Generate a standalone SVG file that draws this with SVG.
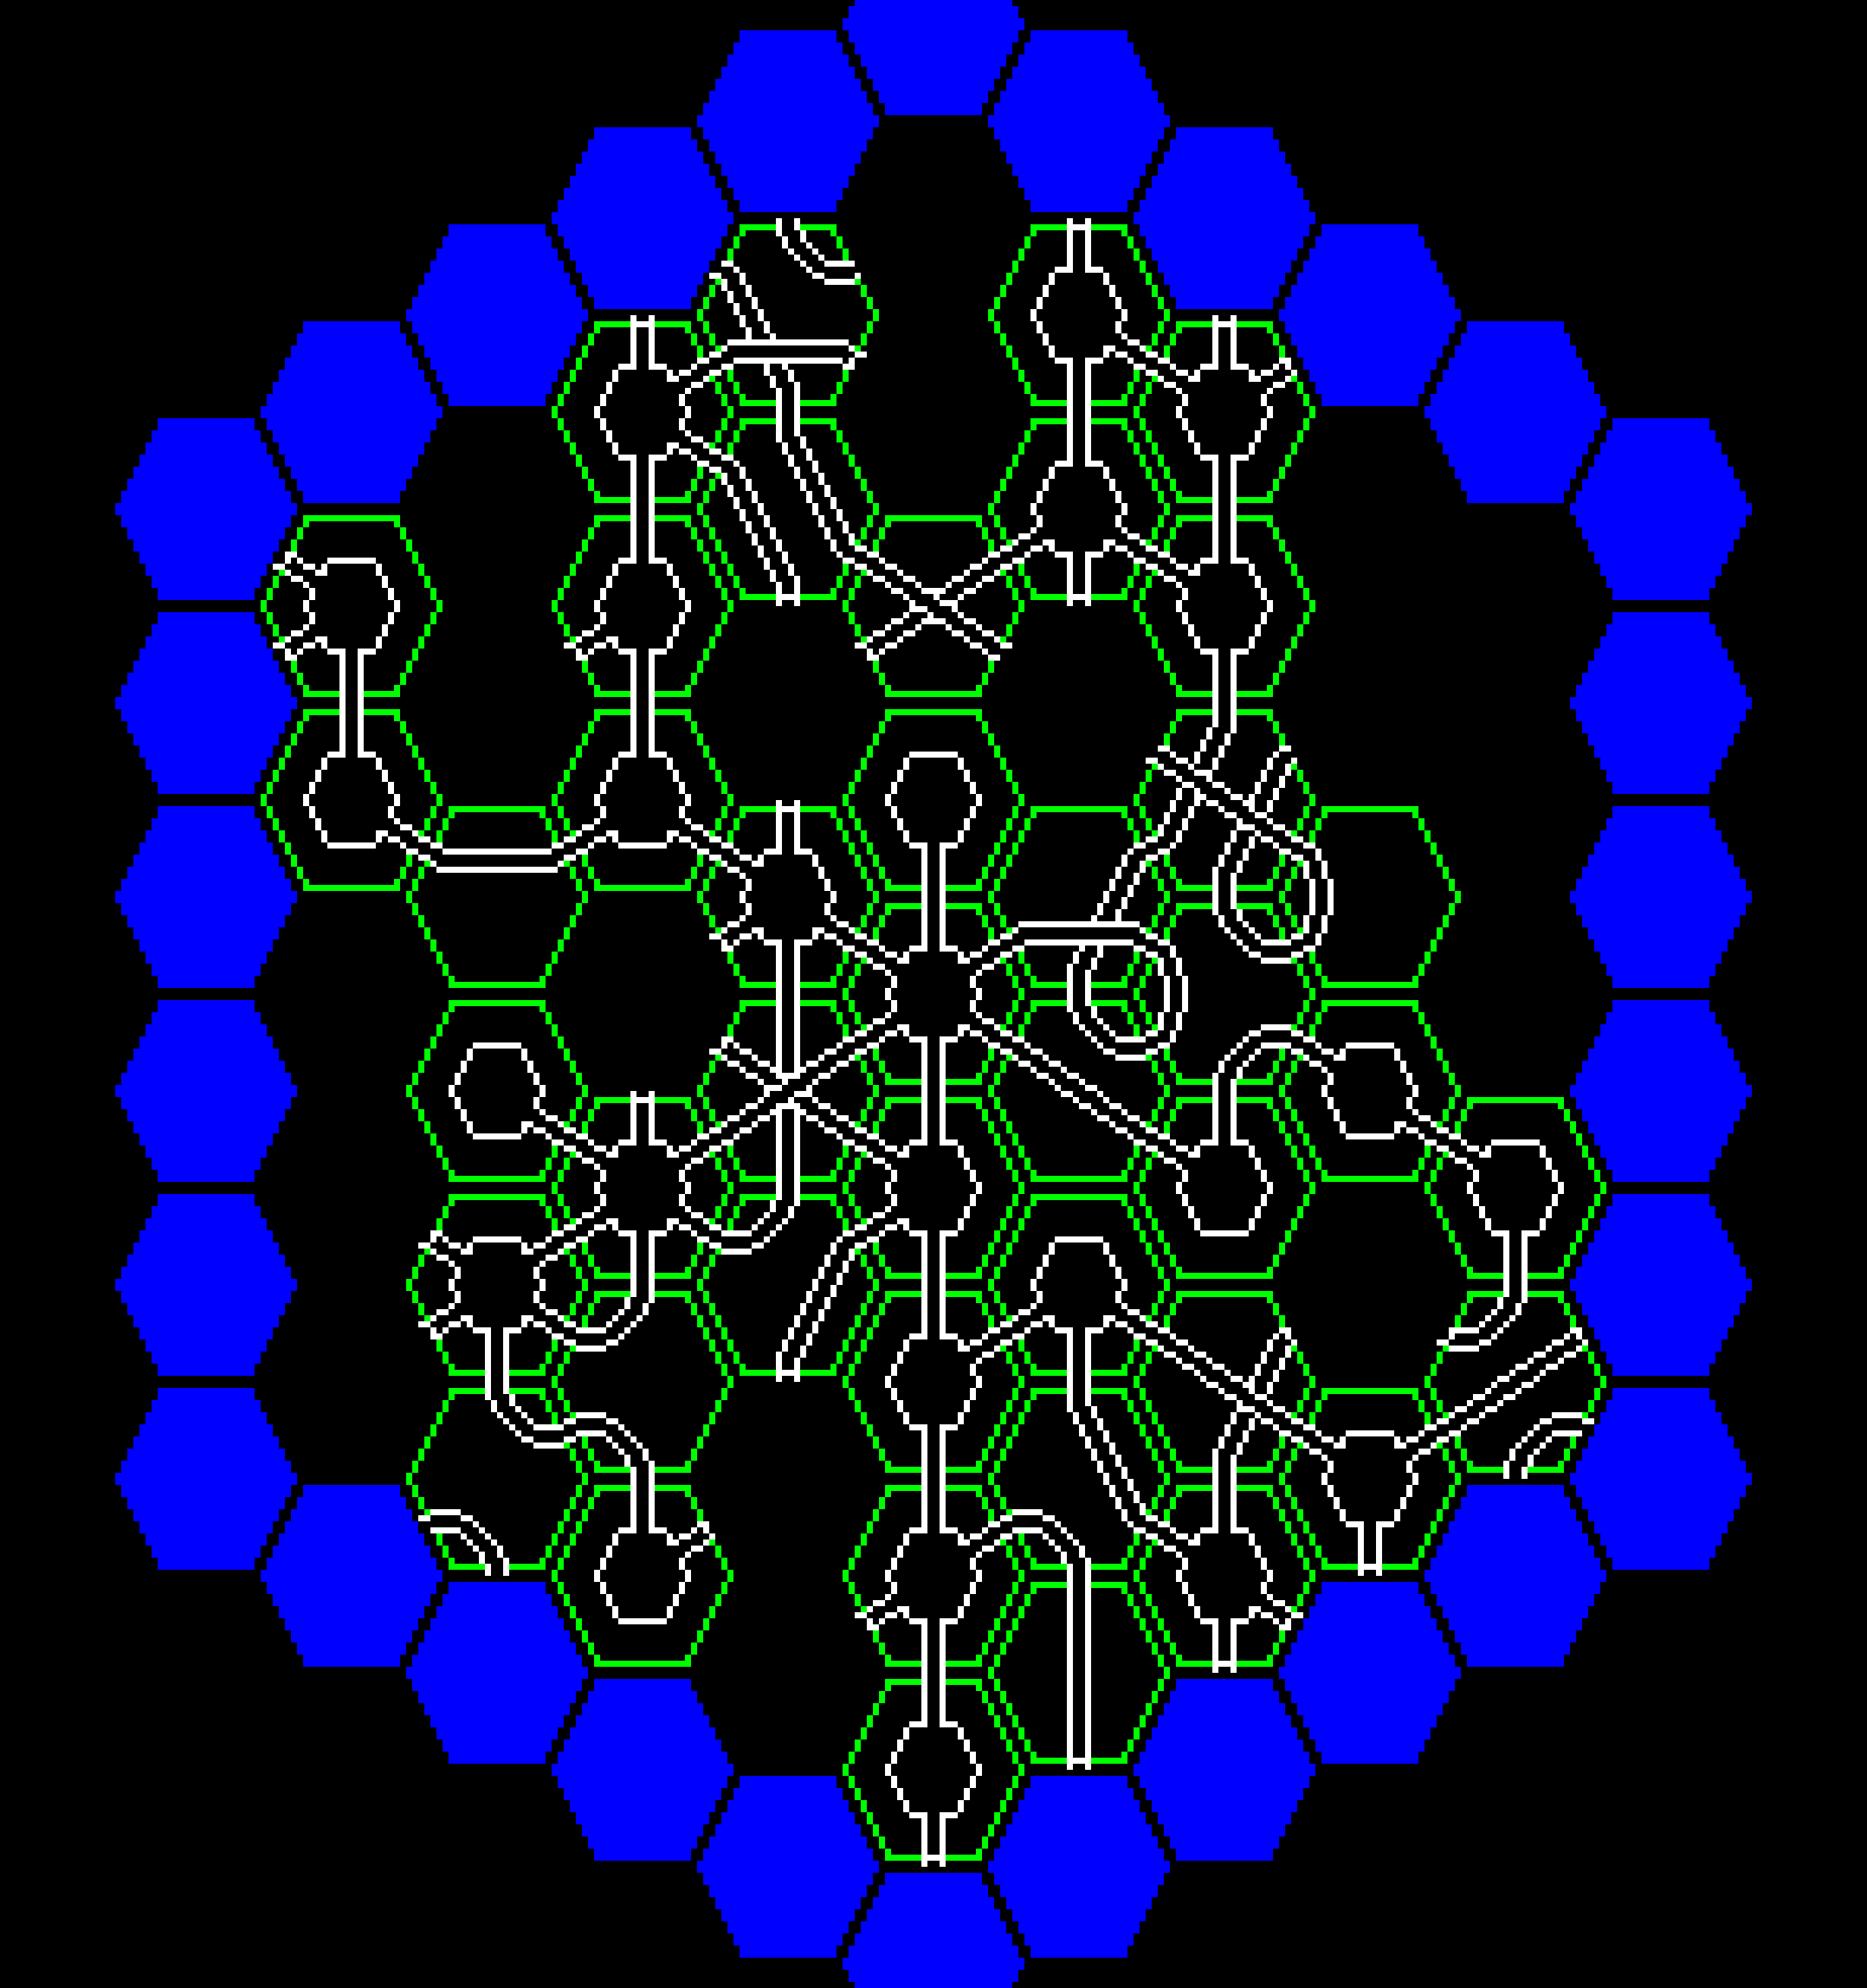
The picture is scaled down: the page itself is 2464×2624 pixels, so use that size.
<svg xmlns="http://www.w3.org/2000/svg" width="2464" height="2624" viewBox="0 0 2464 2624" shape-rendering="crispEdges">
<style>.w{fill:none;stroke:#fff;stroke-width:8}.k{fill:none;stroke:#000;stroke-width:8}.g{fill:none;stroke:#0f0;stroke-width:8}.b{fill:#00f}</style>
<defs>
<path id="bh" class="b" d="M-64 -120H64V-104H72V-88H80V-72H88V-56H96V-40H104V-24H112V-8H120V8H112V24H104V40H96V56H88V72H80V88H72V104H64V120H-64V104H-72V88H-80V72H-88V56H-96V40H-104V24H-112V8H-120V-8H-112V-24H-104V-40H-96V-56H-88V-72H-80V-88H-72V-104H-64Z"/>
<path id="gh" class="g" d="M-64 -116H64M60 -112V-104M68 -104V-88M76 -88V-72M84 -72V-56M92 -56V-40M100 -40V-24M108 -24V-8M116 -8V8M108 8V24M100 24V40M92 40V56M84 56V72M76 72V88M68 88V104M60 104V112M-64 116H64M-60 -112V-104M-68 -104V-88M-76 -88V-72M-84 -72V-56M-92 -56V-40M-100 -40V-24M-108 -24V-8M-116 -8V8M-108 8V24M-100 24V40M-92 40V56M-84 56V72M-76 72V88M-68 88V104M-60 104V112"/>
<path id="r" class="w" d="M-32 -60H32M-32 60H32M36 -56V-40M44 -40V-24M52 -24V-8M60 -8V8M52 8V24M44 24V40M36 40V56M-36 -56V-40M-44 -40V-24M-52 -24V-8M-60 -8V8M-52 8V24M-44 24V40M-36 40V56"/>
<g id="pv"><path class="k" d="M-8 -60H8M-8 -116H8"/><path class="w" d="M-12 -128V-56M12 -128V-56"/></g>
<g id="sv"><path class="k" d="M-8 -116H8M-8 116H8"/><path class="w" d="M-12 -128V128M12 -128V128"/></g>
<g id="pd"><path class="k" d="M44 24V40M80 60H88"/><path class="w" d="M56 28H64M64 36H80M80 44H88M88 52H104M32 44H48M48 52H64M64 60H72M72 68H88"/></g>
<path id="bs" class="w" d="M-8 116H8"/>
<path id="bd" class="w" d="M80 60H88"/>
<path id="td" class="k" d="M96 52H104"/>
<g id="sb"><path class="k" d="M-88 -60H-80M-8 116H8"/><path class="w" d="M-104 -52H-88M-84 -48V-32M-76 -32V-16M-68 -16V0M-60 0V16M-52 16V32M-44 32V48M-36 48V64M-28 64V80M-20 80V96M-12 96V128M-88 -68H-72M-72 -60H-64M-60 -56V-40M-52 -40V-24M-44 -24V-8M-36 -8V8M-28 8V24M-20 24V40M-12 40V56M-4 56V72M4 72V88M12 88V128"/></g>
<g id="hb"><path class="k" d="M-88 -60H-80M80 -60H88M-88 -52H88M-80 -44H80"/><path class="w" d="M-88 -68H-72M72 -68H88M-72 -60H72M-104 -52H-88M88 -52H104M-84 -48V-40M84 -48V-40M-80 -36H80"/></g>
<g id="an"><path class="k" d="M-8 -116H8M80 -60H88"/><path class="w" d="M-12 -128V-104M-4 -104V-88M4 -88V-80M12 -80V-72M20 -72V-64M28 -64V-56M32 -52H48M48 -44H88M88 -52H104M12 -128V-112M20 -112V-96M28 -96V-88M36 -88V-80M44 -80V-72M48 -68H88"/></g>
<g id="aw"><path class="k" d="M-88 -60H-80M-88 60H-80"/><path class="w" d="M-88 -68H-72M-68 -64V-48M-60 -48V-24M-52 -24V24M-60 24V48M-68 48V64M-88 68H-72M-104 -52H-88M-84 -48V-24M-76 -24V24M-84 24V48M-104 52H-88"/></g>
<g id="sd"><path class="k" d="M-88 -60H-80M80 60H88M-88 -52H-64M-80 -44H-48M-64 -36H-40M-56 -28H-24M-40 -20H-16M-32 -12H0M-24 -4H8M-8 4H24M0 12H32M16 20H40M24 28H56M40 36H64M48 44H80M64 52H88"/><path class="w" d="M-88 -68H-72M-72 -60H-64M-64 -52H-48M-48 -44H-40M-40 -36H-24M-24 -28H-16M-16 -20H0M0 -12H8M8 -4H24M24 4H32M32 12H40M40 20H56M56 28H64M64 36H80M80 44H88M88 52H104M-104 -52H-88M-88 -44H-80M-80 -36H-64M-64 -28H-56M-56 -20H-40M-40 -12H-32M-32 -4H-24M-24 4H-8M-8 12H0M0 20H16M16 28H24M24 36H40M40 44H48M48 52H64M64 60H72M72 68H88"/></g>
</defs>
<rect id="background" width="2464" height="2624" fill="#000"/>
<g id="blue-border">
<use href="#bh" x="272" y="672"/><use href="#bh" x="272" y="928"/><use href="#bh" x="272" y="1184"/><use href="#bh" x="272" y="1440"/><use href="#bh" x="272" y="1696"/><use href="#bh" x="272" y="1952"/>
<use href="#bh" x="464" y="544"/><use href="#bh" x="464" y="2080"/><use href="#bh" x="656" y="416"/><use href="#bh" x="656" y="2208"/>
<use href="#bh" x="848" y="288"/><use href="#bh" x="848" y="2336"/><use href="#bh" x="1040" y="160"/><use href="#bh" x="1040" y="2464"/>
<use href="#bh" x="1232" y="32"/><use href="#bh" x="1232" y="2592"/><use href="#bh" x="1424" y="160"/><use href="#bh" x="1424" y="2464"/>
<use href="#bh" x="1616" y="288"/><use href="#bh" x="1616" y="2336"/><use href="#bh" x="1808" y="416"/><use href="#bh" x="1808" y="2208"/>
<use href="#bh" x="2000" y="544"/><use href="#bh" x="2000" y="2080"/>
<use href="#bh" x="2192" y="672"/><use href="#bh" x="2192" y="928"/><use href="#bh" x="2192" y="1184"/><use href="#bh" x="2192" y="1440"/><use href="#bh" x="2192" y="1696"/><use href="#bh" x="2192" y="1952"/>
</g>
<g id="green-cells">
<use href="#gh" x="464" y="800"/><use href="#gh" x="464" y="1056"/>
<use href="#gh" x="656" y="1184"/><use href="#gh" x="656" y="1440"/><use href="#gh" x="656" y="1696"/><use href="#gh" x="656" y="1952"/>
<use href="#gh" x="848" y="544"/><use href="#gh" x="848" y="800"/><use href="#gh" x="848" y="1056"/><use href="#gh" x="848" y="1568"/><use href="#gh" x="848" y="1824"/><use href="#gh" x="848" y="2080"/>
<use href="#gh" x="1040" y="416"/><use href="#gh" x="1040" y="672"/><use href="#gh" x="1040" y="1184"/><use href="#gh" x="1040" y="1440"/><use href="#gh" x="1040" y="1696"/>
<use href="#gh" x="1232" y="800"/><use href="#gh" x="1232" y="1056"/><use href="#gh" x="1232" y="1312"/><use href="#gh" x="1232" y="1568"/><use href="#gh" x="1232" y="1824"/><use href="#gh" x="1232" y="2080"/><use href="#gh" x="1232" y="2336"/>
<use href="#gh" x="1424" y="416"/><use href="#gh" x="1424" y="672"/><use href="#gh" x="1424" y="1184"/><use href="#gh" x="1424" y="1440"/><use href="#gh" x="1424" y="1696"/><use href="#gh" x="1424" y="1952"/><use href="#gh" x="1424" y="2208"/>
<use href="#gh" x="1616" y="544"/><use href="#gh" x="1616" y="800"/><use href="#gh" x="1616" y="1056"/><use href="#gh" x="1616" y="1312"/><use href="#gh" x="1616" y="1568"/><use href="#gh" x="1616" y="1824"/><use href="#gh" x="1616" y="2080"/>
<use href="#gh" x="1808" y="1184"/><use href="#gh" x="1808" y="1440"/><use href="#gh" x="1808" y="1952"/>
<use href="#gh" x="2000" y="1568"/><use href="#gh" x="2000" y="1824"/>
</g>
<g id="connectors">
<g id="c464-800" transform="translate(464 800)"><use href="#r"/><use href="#pd" transform="scale(-1 -1)"/><use href="#bd" transform="scale(-1 -1)"/><use href="#pd" transform="scale(-1 1)"/><use href="#bd" transform="scale(-1 1)"/><use href="#pv" transform="scale(1 -1)"/></g>
<g id="c464-1056" transform="translate(464 1056)"><use href="#r"/><use href="#pv"/><use href="#pd"/></g>
<g id="c656-1184" transform="translate(656 1184)"><use href="#hb"/></g>
<g id="c656-1440" transform="translate(656 1440)"><use href="#r"/><use href="#pd"/></g>
<g id="c656-1696" transform="translate(656 1696)"><use href="#r"/><use href="#pd" transform="scale(-1 -1)"/><use href="#bd" transform="scale(-1 -1)"/><use href="#pd" transform="scale(-1 1)"/><use href="#bd" transform="scale(-1 1)"/><use href="#pd" transform="scale(1 -1)"/><use href="#pd"/><use href="#pv" transform="scale(1 -1)"/></g>
<g id="c656-1952" transform="translate(656 1952)"><use href="#an"/><use href="#an" transform="scale(-1 -1)"/></g>
<g id="c848-544" transform="translate(848 544)"><use href="#r"/><use href="#pv"/><use href="#bs" transform="scale(1 -1)"/><use href="#pv" transform="scale(1 -1)"/><use href="#pd" transform="scale(1 -1)"/><use href="#pd"/></g>
<g id="c848-800" transform="translate(848 800)"><use href="#r"/><use href="#pv"/><use href="#pv" transform="scale(1 -1)"/><use href="#pd" transform="scale(-1 1)"/><use href="#bd" transform="scale(-1 1)"/></g>
<g id="c848-1056" transform="translate(848 1056)"><use href="#r"/><use href="#pv"/><use href="#pd" transform="scale(-1 1)"/><use href="#pd"/></g>
<g id="c848-1568" transform="translate(848 1568)"><use href="#r"/><use href="#pv"/><use href="#bs" transform="scale(1 -1)"/><use href="#pv" transform="scale(1 -1)"/><use href="#pd" transform="scale(-1 -1)"/><use href="#pd" transform="scale(1 -1)"/><use href="#pd" transform="scale(-1 1)"/><use href="#pd"/></g>
<g id="c848-1824" transform="translate(848 1824)"><use href="#an" transform="scale(-1 1)"/><use href="#an" transform="scale(-1 -1)"/></g>
<g id="c848-2080" transform="translate(848 2080)"><use href="#r"/><use href="#pv"/><use href="#pd" transform="scale(1 -1)"/><use href="#bd" transform="scale(1 -1)"/><use href="#td" transform="scale(1 -1)"/></g>
<g id="c1040-416" transform="translate(1040 416)"><use href="#an"/><use href="#td" transform="scale(1 -1)"/><use href="#sb"/><use href="#hb" transform="scale(1 -1)"/><use href="#bd"/></g>
<g id="c1040-672" transform="translate(1040 672)"><use href="#sb"/><use href="#sb" transform="scale(-1 -1)"/><use href="#bs"/></g>
<g id="c1040-1184" transform="translate(1040 1184)"><use href="#r"/><use href="#pv"/><use href="#bs" transform="scale(1 -1)"/><use href="#pv" transform="scale(1 -1)"/><use href="#pd" transform="scale(-1 -1)"/><use href="#pd" transform="scale(-1 1)"/><use href="#bd" transform="scale(-1 1)"/><use href="#pd"/></g>
<g id="c1040-1440" transform="translate(1040 1440)"><use href="#sv"/><use href="#sd"/><use href="#sd" transform="scale(-1 1)"/><use href="#bd" transform="scale(-1 -1)"/></g>
<g id="c1040-1696" transform="translate(1040 1696)"><use href="#an" transform="scale(-1 1)"/><use href="#sb" transform="scale(-1 1)"/><use href="#bs"/></g>
<g id="c1232-800" transform="translate(1232 800)"><use href="#sd" transform="scale(-1 1)"/><use href="#sd"/><use href="#bd" transform="scale(-1 1)"/></g>
<g id="c1232-1056" transform="translate(1232 1056)"><use href="#r"/><use href="#pv" transform="scale(1 -1)"/></g>
<g id="c1232-1312" transform="translate(1232 1312)"><use href="#r"/><use href="#pv"/><use href="#pv" transform="scale(1 -1)"/><use href="#pd"/><use href="#pd" transform="scale(-1 1)"/><use href="#pd" transform="scale(1 -1)"/><use href="#pd" transform="scale(-1 -1)"/></g>
<g id="c1232-1568" transform="translate(1232 1568)"><use href="#r"/><use href="#pv"/><use href="#pv" transform="scale(1 -1)"/><use href="#pd" transform="scale(-1 -1)"/><use href="#pd" transform="scale(-1 1)"/></g>
<g id="c1232-1824" transform="translate(1232 1824)"><use href="#r"/><use href="#pv"/><use href="#pv" transform="scale(1 -1)"/><use href="#pd" transform="scale(1 -1)"/></g>
<g id="c1232-2080" transform="translate(1232 2080)"><use href="#r"/><use href="#pv"/><use href="#pv" transform="scale(1 -1)"/><use href="#pd" transform="scale(1 -1)"/><use href="#pd" transform="scale(-1 1)"/><use href="#bd" transform="scale(-1 1)"/></g>
<g id="c1232-2336" transform="translate(1232 2336)"><use href="#r"/><use href="#pv"/><use href="#pv" transform="scale(1 -1)"/><use href="#bs"/></g>
<g id="c1424-416" transform="translate(1424 416)"><use href="#r"/><use href="#pv"/><use href="#bs" transform="scale(1 -1)"/><use href="#pv" transform="scale(1 -1)"/><use href="#pd"/></g>
<g id="c1424-672" transform="translate(1424 672)"><use href="#r"/><use href="#pv"/><use href="#pv" transform="scale(1 -1)"/><use href="#bs"/><use href="#pd" transform="scale(-1 1)"/><use href="#pd"/></g>
<g id="c1424-1184" transform="translate(1424 1184)"><use href="#sb" transform="scale(-1 1)"/><use href="#hb" transform="scale(1 -1)"/></g>
<g id="c1424-1440" transform="translate(1424 1440)"><use href="#an"/><use href="#sd"/></g>
<g id="c1424-1696" transform="translate(1424 1696)"><use href="#r"/><use href="#pv" transform="scale(1 -1)"/><use href="#pd" transform="scale(-1 1)"/><use href="#pd"/></g>
<g id="c1424-1952" transform="translate(1424 1952)"><use href="#sb" transform="scale(-1 -1)"/><use href="#an" transform="scale(-1 -1)"/></g>
<g id="c1424-2208" transform="translate(1424 2208)"><use href="#sv"/><use href="#bs"/></g>
<g id="c1616-544" transform="translate(1616 544)"><use href="#r"/><use href="#pv"/><use href="#bs" transform="scale(1 -1)"/><use href="#pv" transform="scale(1 -1)"/><use href="#pd" transform="scale(-1 -1)"/><use href="#pd" transform="scale(1 -1)"/><use href="#bd" transform="scale(1 -1)"/><use href="#td" transform="scale(1 -1)"/></g>
<g id="c1616-800" transform="translate(1616 800)"><use href="#r"/><use href="#pv"/><use href="#pv" transform="scale(1 -1)"/><use href="#pd" transform="scale(-1 -1)"/></g>
<g id="c1616-1056" transform="translate(1616 1056)"><use href="#sb" transform="scale(1 -1)"/><use href="#sb" transform="scale(-1 1)"/><use href="#td" transform="scale(1 -1)"/><use href="#sd"/></g>
<g id="c1616-1312" transform="translate(1616 1312)"><use href="#an"/><use href="#aw"/><use href="#an" transform="scale(1 -1)"/></g>
<g id="c1616-1568" transform="translate(1616 1568)"><use href="#r"/><use href="#pv"/><use href="#pd" transform="scale(-1 -1)"/></g>
<g id="c1616-1824" transform="translate(1616 1824)"><use href="#sb" transform="scale(-1 1)"/><use href="#bd" transform="scale(1 -1)"/><use href="#td" transform="scale(1 -1)"/><use href="#sd"/></g>
<g id="c1616-2080" transform="translate(1616 2080)"><use href="#r"/><use href="#pv"/><use href="#pv" transform="scale(1 -1)"/><use href="#bs"/><use href="#pd" transform="scale(-1 -1)"/><use href="#pd"/><use href="#bd"/></g>
<g id="c1808-1184" transform="translate(1808 1184)"><use href="#aw"/></g>
<g id="c1808-1440" transform="translate(1808 1440)"><use href="#r"/><use href="#pd" transform="scale(-1 -1)"/><use href="#pd"/></g>
<g id="c1808-1952" transform="translate(1808 1952)"><use href="#r"/><use href="#pd" transform="scale(-1 -1)"/><use href="#pd" transform="scale(1 -1)"/><use href="#pv" transform="scale(1 -1)"/><use href="#bs"/></g>
<g id="c2000-1568" transform="translate(2000 1568)"><use href="#r"/><use href="#pd" transform="scale(-1 -1)"/><use href="#pv" transform="scale(1 -1)"/></g>
<g id="c2000-1824" transform="translate(2000 1824)"><use href="#an" transform="scale(-1 1)"/><use href="#bd" transform="scale(-1 -1)"/><use href="#sd" transform="scale(-1 1)"/><use href="#bd" transform="scale(1 -1)"/><use href="#td" transform="scale(1 -1)"/><use href="#an" transform="scale(1 -1)"/></g>
</g>
</svg>
